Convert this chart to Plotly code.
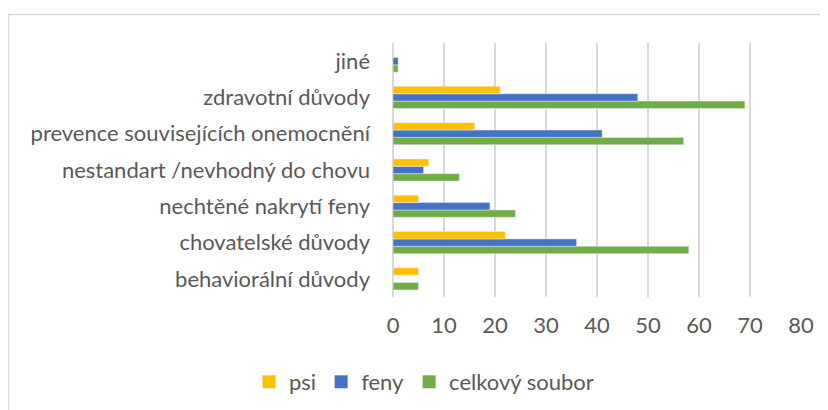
import plotly.graph_objects as go

categories = ["behaviorální důvody", "chovatelské důvody", "nechtěné nakrytí feny",
              "nestandart /nevhodný do chovu", "prevence souvisejících onemocnění",
              "zdravotní důvody", "jiné"]
psi = [5, 22, 5, 7, 16, 21, 0]
feny = [0, 36, 19, 6, 41, 48, 1]
celkovy = [5, 58, 24, 13, 57, 69, 1]
x_ticks = [0, 10, 20, 30, 40, 50, 60, 70, 80]

series = [("psi", psi, "#FFC000"), ("feny", feny, "#4472C4"),
          ("celkový soubor", celkovy, "#70AD47")]

# page body has an 8px margin, so figure coords = picture coords - 8
OFF = 8
W, H = 828 - OFF, 410 - OFF
ML, MT = 393 - OFF, 43 - OFF
MR = W - (801 - OFF)
MB = H - (297 - OFF)

fig = go.Figure()
# bars: first trace drawn lowest in the group, so add in reverse order
for name, vals, color in reversed(series):
    fig.add_trace(go.Bar(y=categories, x=vals, name=name, orientation="h",
                         marker=dict(color=color), showlegend=False))
# legend entries with square swatches
for name, vals, color in series:
    fig.add_trace(go.Scatter(x=[None], y=[None], mode="markers", name=name,
                             marker=dict(symbol="square", size=13, color=color),
                             showlegend=True))

pw, ph = W - ML - MR, H - MT - MB
def px_x(p):
    return (p - OFF - ML) / pw
def px_y(p):
    return (H - MB - (p - OFF)) / ph

font = dict(family="Lato, Carlito, Calibri, sans-serif", size=22, color="#595959")

fig.update_layout(
    width=W, height=H,
    margin=dict(l=ML, r=MR, t=MT, b=MB, autoexpand=False),
    paper_bgcolor="white", plot_bgcolor="white",
    barmode="group", bargap=0.39, bargroupgap=0,
    font=font,
    showlegend=True,
    legend=dict(orientation="h", traceorder="normal", xref="container", yref="container",
                x=(424 - OFF) / W, xanchor="center", y=1 - (382 - OFF) / H, yanchor="middle",
                font=font, itemwidth=30, tracegroupgap=0),
    xaxis=dict(range=[0, 80], tickvals=x_ticks, showgrid=True, gridcolor="#D9D9D9",
               gridwidth=2, zeroline=True, zerolinecolor="#D9D9D9", zerolinewidth=2,
               showline=False, ticks="", ticklabelstandoff=13, fixedrange=True),
    yaxis=dict(type="category", categoryorder="array", categoryarray=categories,
               showgrid=False, zeroline=False, showline=False, ticks="",
               ticklabelstandoff=22, fixedrange=True),
    shapes=[dict(type="rect", xref="paper", yref="paper",
                 x0=px_x(8.5), x1=px_x(850), y0=px_y(430), y1=px_y(14.5),
                 line=dict(color="#D9D9D9", width=1.5), fillcolor="rgba(0,0,0,0)",
                 layer="below")],
)

fig.write_html("out.html")
